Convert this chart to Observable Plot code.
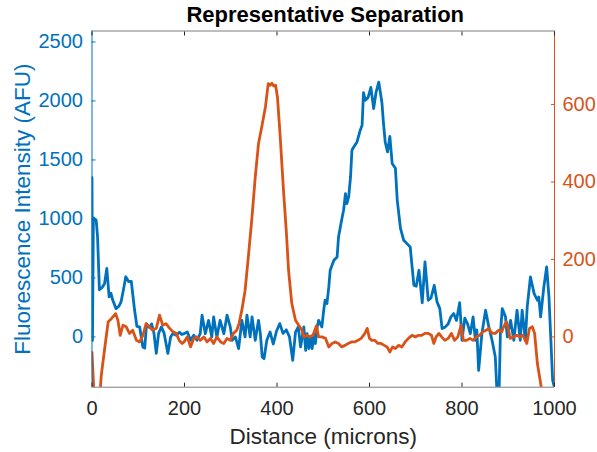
<!DOCTYPE html>
<html>
<head>
<meta charset="utf-8">
<script src="https://cdn.jsdelivr.net/npm/d3@7"></script>
<script src="https://cdn.jsdelivr.net/npm/@observablehq/plot@0.6"></script>
<style>
  html, body { margin: 0; padding: 0; background: #fff; }
  #chart svg { display: block; }
</style>
</head>
<body>
<div id="chart"></div>
<script>
// ---- data ----
const blueX = [0,1,3,6,9,12,16,22,27,32,37,41,45,52,58,63,68,73,79,85,92,97,103,110,114,118,124,129,134,139,144,150,156,164,170,175,182,189,194,199,206,213,220,227,234,238,245,252,259,263,270,277,285,292,299,303,310,317,324,331,335,342,346,353,360,364,368,372,378,385,392,399,406,413,420,427,434,440,446,451,458,462,465,469,473,476,480,483,487,490,497,501,504,508,512,515,523,530,533,537,541,544,548,551,555,559,562,566,573,580,584,587,591,597,603,609,614,620,624,627,630,634,639,644,649,656,660,667,674,681,688,696,701,707,714,720,727,733,740,746,752,757,764,770,776,782,788,795,800,806,812,818,824,829,832,836,843,851,858,865,872,876,880,883,887,894,898,905,912,919,926,930,937,941,948,956,963,966,970,977,983,988,996,1000];
const blueY = [1350,-30,1010,1000,990,850,400,420,450,580,340,370,310,240,260,300,400,510,470,470,230,90,85,-85,-95,110,80,110,30,-140,30,85,30,-140,0,30,15,40,20,28,42,-28,14,-28,28,184,28,141,0,170,0,141,28,184,85,-28,0,-99,141,0,184,0,170,-28,141,28,-170,-184,-28,42,-60,50,113,30,60,0,-198,40,85,-85,85,-113,28,-99,0,-99,28,-57,85,141,85,226,311,283,424,565,650,678,847,932,1017,1074,1215,1130,1187,1356,1582,1610,1653,1752,1794,2070,2006,2030,2115,1935,2070,2160,2060,1980,1822,1650,1568,1700,1470,1430,1158,920,819,791,763,438,430,565,290,636,311,330,438,297,240,71,85,110,170,198,140,290,-28,160,110,28,170,-28,60,-283,28,226,85,-28,-170,-500,-500,28,240,170,0,141,-28,226,-28,226,-28,254,508,367,311,339,170,424,593,339,-367,-430];

const orangeX = [0,4,10,16,20,27,35,42,51,56,61,67,74,81,88,96,103,110,117,124,131,139,146,153,160,168,175,182,189,195,199,206,213,220,227,234,242,249,256,263,270,278,285,292,299,306,313,318,324,331,338,346,353,360,367,375,381,385,389,393,397,401,407,414,420,425,432,440,447,454,458,465,470,478,485,490,497,505,512,519,526,533,540,547,554,561,568,575,582,590,595,600,605,612,618,625,632,638,644,650,656,663,670,677,684,692,699,706,713,720,727,734,739,744,750,756,763,770,777,784,791,798,803,810,817,824,831,838,845,852,858,865,872,879,886,890,896,900,904,911,918,925,932,940,946,952,957,963,970,976,985,1000];
const orangeY = [-40,-140,-200,-170,-100,-34,39,47,60,43,4,30,26,9,17,-9,-13,4,34,26,17,22,56,30,34,22,13,9,-10,-17,-13,0,-26,-4,0,-9,0,-13,-4,-17,0,-13,-17,-4,-9,9,17,35,69,120,206,310,413,499,542,594,654,650,655,648,650,619,516,379,275,172,86,43,30,17,0,4,0,4,28,0,0,-4,-26,-17,-13,-17,-26,-22,-17,-13,-13,-9,-4,9,22,-4,-9,-9,-17,-17,-22,-26,-39,-26,-30,-22,-26,-13,-4,4,0,4,4,9,9,4,-17,0,9,0,-9,-4,9,-9,0,30,-9,-9,-4,-9,0,4,13,17,22,9,9,17,13,26,39,22,-4,0,4,0,4,-17,22,26,9,-69,-120,-170,-250,-300];

const xTicks = [0,200,400,600,800,1000];
const leftTicks = [0,500,1000,1500,2000,2500];
const rightTicks = [0,200,400,600];
const xDomain = [0,1000];
const leftDomain = [-426,2593];
const rightDomain = [-130,790];

const titleText = "Representative Separation";
const xLabel = "Distance (microns)";
const yLabel = "Fluorescence Intensity (AFU)";

// ---- styling ----
const BLUE = "#0072BD", ORANGE = "#D95319", GREY = "#262626";
const FONT = "'Liberation Sans', Arial, Helvetica, sans-serif";

// map right-axis values into left-axis units (shared y scale)
const toLeft = d3.scaleLinear().domain(rightDomain).range(leftDomain);

const blueData = blueX.map((x, i) => ({x, y: blueY[i]}));
const orangeData = orangeX.map((x, i) => ({x, y: toLeft(orangeY[i])}));

const chart = Plot.plot({
  width: 597,
  height: 452,
  marginLeft: 91.5,
  marginRight: 43,
  marginTop: 30.5,
  marginBottom: 65.3,
  style: {fontFamily: FONT, background: "#fff", overflow: "visible"},
  x: {domain: xDomain, label: null},
  y: {domain: leftDomain, label: null},
  marks: [
    Plot.line(blueData, {x: "x", y: "y", stroke: BLUE, strokeWidth: 2.8, clip: true}),
    Plot.line(orangeData, {x: "x", y: "y", stroke: ORANGE, strokeWidth: 2.8, clip: true}),
    // box
    Plot.ruleY([leftDomain[1]], {stroke: GREY, strokeOpacity: 0.6, strokeWidth: 1}),
    Plot.ruleY([leftDomain[0]], {stroke: GREY, strokeOpacity: 0.6, strokeWidth: 1}),
    Plot.ruleX([xDomain[0]], {stroke: BLUE, strokeWidth: 1}),
    Plot.ruleX([xDomain[1]], {stroke: ORANGE, strokeWidth: 1}),
    // axes
    Plot.axisX(xTicks, {anchor: "bottom", tickSize: -4, tickPadding: 18, color: GREY, fontSize: 20, tickFormat: d => String(d), label: null}),
    Plot.axisX(xTicks, {anchor: "top", tickSize: -4, stroke: GREY, fill: "none", label: null}),
    Plot.axisY(leftTicks, {anchor: "left", tickSize: -4, tickPadding: 13, color: BLUE, fontSize: 20, tickFormat: d => String(d), label: null}),
    Plot.axisY(rightTicks.map(v => toLeft(v)), {anchor: "right", tickSize: -4, tickPadding: 12, color: ORANGE, fontSize: 20, tickFormat: d => String(Math.round(toLeft.invert(d))), label: null}),
    // texts
    Plot.text([titleText], {frameAnchor: "top", dy: -16, dx: 2, text: d => d, fontSize: 22, fontWeight: "bold", fill: "#000", lineAnchor: "middle", textAnchor: "middle"}),
    Plot.text([xLabel], {frameAnchor: "bottom", dy: 50, text: d => d, fontSize: 22.5, fill: GREY, lineAnchor: "middle", textAnchor: "middle"}),
    Plot.text([yLabel], {frameAnchor: "left", dx: -69, rotate: -90, text: d => d, fontSize: 22.5, fill: BLUE, lineAnchor: "middle", textAnchor: "middle"})
  ]
});
document.getElementById("chart").appendChild(chart);
</script>
</body>
</html>
